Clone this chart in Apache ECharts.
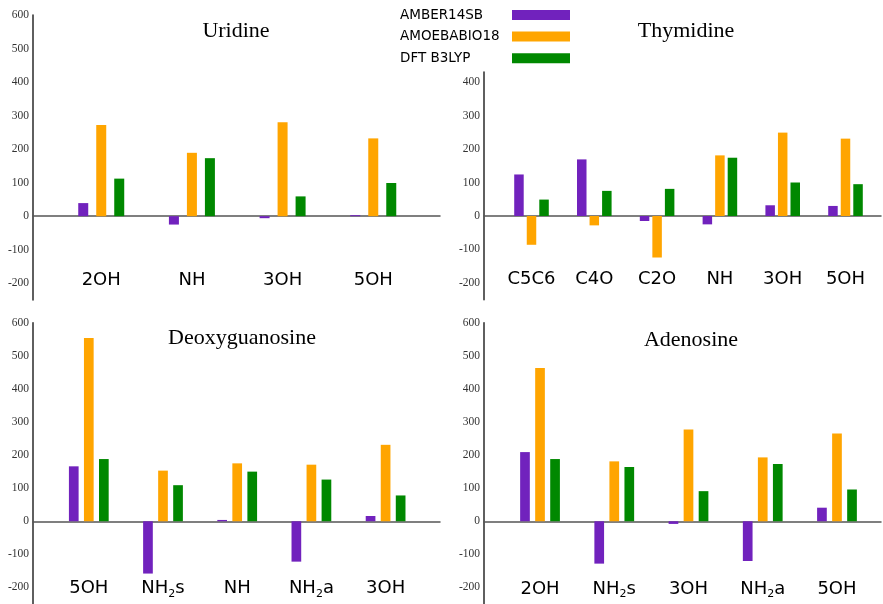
<!DOCTYPE html>
<html>
<head>
	<meta charset="utf-8">
	<title>Uridine / Thymidine / Deoxyguanosine / Adenosine</title>
	<script src="https://cdn.jsdelivr.net/npm/echarts@6/dist/echarts.min.js"></script>
	<style>
		html, body { margin: 0; padding: 0; background: #fff; }
		#main { width: 883px; height: 604px; }
	</style>
</head>
<body>
	<div id="main"></div>
	<script>
		var seriesNames = ['AMBER14SB', 'AMOEBABIO18', 'DFT B3LYP'];
		var seriesColors = ['#7122bd', '#ffa500', '#008800'];

		var uridineCats = ['2OH', 'NH', '3OH', '5OH'];
		var uridineAmber = [39, -25, -6, 3];
		var uridineAmoeba = [272, 189, 280, 232];
		var uridineDft = [112, 173, 59, 99];

		var thymidineCats = ['C5C6', 'C4O', 'C2O', 'NH', '3OH', '5OH'];
		var thymidineAmber = [124, 169, -15, -25, 32, 30];
		var thymidineAmoeba = [-86, -28, -124, 181, 249, 231];
		var thymidineDft = [49, 75, 81, 174, 100, 95];

		var deoxyCats = ['5OH', 'NH2s', 'NH', 'NH2a', '3OH'];
		var deoxyAmber = [166, -158, 4, -122, 16];
		var deoxyAmoeba = [554, 153, 175, 171, 231];
		var deoxyDft = [188, 109, 150, 126, 78];

		var adenosineCats = ['2OH', 'NH2s', '3OH', 'NH2a', '5OH'];
		var adenosineAmber = [209, -128, -8, -120, 41];
		var adenosineAmoeba = [463, 181, 277, 193, 265];
		var adenosineDft = [188, 164, 91, 173, 96];

		var ticksTall = [-200, -100, 0, 100, 200, 300, 400, 500, 600];
		var ticksShort = [-200, -100, 0, 100, 200, 300, 400];

		// one entry per panel: frame box (axis + zero line) and bar box
		var panels = [
			{ title: 'Uridine', tx: 236, ty: 20, cats: uridineCats, data: [uridineAmber, uridineAmoeba, uridineDft],
				frame: { left: 33, right: 443, top: 15, bottom: 304 }, bars: { left: 55.9, right: 464.4 },
				max: 600, ticks: ticksTall, barWidth: 10, barGap: '80%', labelMargin: -31 },
			{ title: 'Thymidine', tx: 686, ty: 20, cats: thymidineCats, data: [thymidineAmber, thymidineAmoeba, thymidineDft],
				frame: { left: 484, right: 2, top: 72, bottom: 304.3 }, bars: { left: 500.1, right: 6.1 },
				max: 430, ticks: ticksShort, barWidth: 9.5, barGap: '32%', labelMargin: -31 },
			{ title: 'Deoxyguanosine', tx: 242, ty: 327, cats: deoxyCats, data: [deoxyAmber, deoxyAmoeba, deoxyDft],
				frame: { left: 33, right: 443, top: 322.7, bottom: -2.9 }, bars: { left: 51.7, right: 460.3 },
				max: 600, ticks: ticksTall, barWidth: 9.7, barGap: '55%', labelMargin: -26.5 },
			{ title: 'Adenosine', tx: 691, ty: 329, cats: adenosineCats, data: [adenosineAmber, adenosineAmoeba, adenosineDft],
				frame: { left: 484, right: 2, top: 322.7, bottom: -3.9 }, bars: { left: 502.9, right: 8.9 },
				max: 600, ticks: ticksTall, barWidth: 9.7, barGap: '55%', labelMargin: -26 }
		];

		function catLabel(v) {
			return v.replace('NH2', 'NH{sub|2}');
		}

		var grid = [], xAxis = [], yAxis = [], series = [], title = [];
		for (var i = 0; i < panels.length; i++) {
			var p = panels[i];
			var fi = grid.length;
			grid.push({ left: p.frame.left, right: p.frame.right, top: p.frame.top, bottom: p.frame.bottom });
			grid.push({ left: p.bars.left, right: p.bars.right, top: p.frame.top, bottom: p.frame.bottom });

			// frame: y axis with labels, zero line
			xAxis.push({
				gridIndex: fi, type: 'category', data: [''],
				axisLine: { show: true, onZero: true, lineStyle: { color: '#555', width: 1.5 } },
				axisTick: { show: false }, axisLabel: { show: false }, splitLine: { show: false }
			});
			yAxis.push({
				gridIndex: fi, type: 'value', min: -250, max: p.max,
				axisLine: { show: true, lineStyle: { color: '#2a2a2a', width: 1.5 } },
				axisTick: { show: false }, splitLine: { show: false },
				axisLabel: {
					customValues: p.ticks, margin: 4, color: '#333',
					fontFamily: 'Liberation Serif', fontSize: 11.5
				}
			});

			// bars: category labels near the bottom
			xAxis.push({
				gridIndex: fi + 1, type: 'category', data: p.cats, position: 'bottom',
				axisLine: { show: false, onZero: false }, axisTick: { show: false },
				splitLine: { show: false },
				axisLabel: {
					interval: 0, margin: p.labelMargin, color: '#000',
					fontFamily: 'DejaVu Sans', fontSize: 18, lineHeight: 22,
					formatter: catLabel,
					rich: { sub: { fontFamily: 'DejaVu Sans', fontSize: 11, lineHeight: 11, verticalAlign: 'bottom', color: '#000' } }
				}
			});
			yAxis.push({ gridIndex: fi + 1, type: 'value', min: -250, max: p.max, show: false });

			for (var s = 0; s < 3; s++) {
				series.push({
					name: seriesNames[s], type: 'bar',
					xAxisIndex: fi + 1, yAxisIndex: fi + 1,
					barWidth: p.barWidth, barGap: p.barGap,
					itemStyle: { color: seriesColors[s] },
					data: p.data[s]
				});
			}

			title.push({
				text: p.title, left: p.tx, top: p.ty, textAlign: 'center', padding: 0,
				textStyle: { fontFamily: 'Liberation Serif', fontSize: 22, fontWeight: 'normal', color: '#000' }
			});
		}

		var myChart = echarts.init(document.getElementById('main'));
		var option = {
			animation: false,
			backgroundColor: '#fff',
			title: title,
			legend: {
				data: seriesNames,
				orient: 'vertical', left: 400, top: 8, padding: 0,
				align: 'right', icon: 'rect',
				itemWidth: 58, itemHeight: 10, itemGap: 7.6,
				formatter: '{n|{name}}',
				textStyle: {
					fontFamily: 'DejaVu Sans', fontSize: 13.5, color: '#000',
					rich: { n: { width: 107, align: 'left', fontFamily: 'DejaVu Sans', fontSize: 13.5, lineHeight: 16, color: '#000' } }
				}
			},
			grid: grid,
			xAxis: xAxis,
			yAxis: yAxis,
			series: series
		};
		myChart.setOption(option);
	</script>
</body>
</html>
